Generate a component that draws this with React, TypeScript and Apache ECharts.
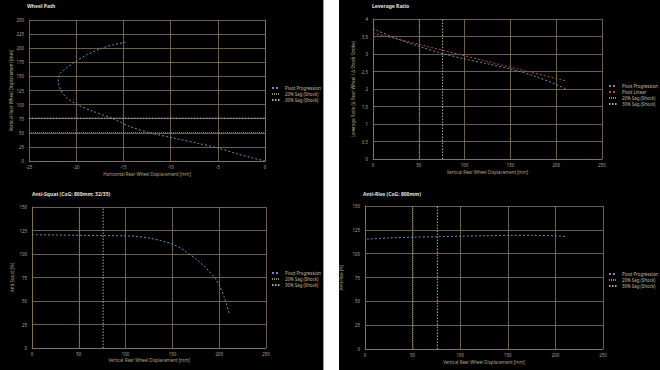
import React, { useEffect, useRef } from "react";
import * as echarts from "echarts";

// Wheel path: [horizontal mm, vertical mm]
const wheelPathH = [0, -1.5, -3, -5, -7, -9.5, -12.2, -14.3, -16.1, -18.2, -19.9, -21.0, -21.6, -21.9, -21.7, -21.0, -20.2, -18.9, -17.3, -16.1, -14.8];
const wheelPathV = [0, 6, 13, 23, 31, 40, 50, 61, 75, 88, 100, 112, 125, 140, 155, 165, 175, 188, 200, 205.8, 210.5];

// Leverage ratio
const levX = [0, 25, 50, 75, 100, 125, 150, 175, 200, 211];
const levProgression = [3.72, 3.45, 3.22, 3.02, 2.86, 2.72, 2.57, 2.38, 2.13, 1.99];
const levLinearX = [0, 212];
const levLinear = [3.6, 2.22];

// Anti-squat
const asX = [0, 25, 50, 75, 100, 110, 125, 140, 150, 160, 167, 175, 185, 195, 200, 205, 211];
const asY = [120.5, 120.2, 119.9, 119.6, 119.3, 118.8, 117, 113.5, 110.5, 105.5, 100.5, 95, 86, 75, 67, 55, 36];

// Anti-rise
const arX = [2, 25, 50, 75, 100, 125, 150, 175, 200, 211];
const arY = [115.2, 116.5, 117.3, 117.8, 118.3, 118.8, 119.2, 119.2, 118.7, 118];

// Sag points (vertical rear wheel displacement, mm)
const sag20 = 50.5;
const sag30 = 76;

const titles = ["Wheel Path", "Leverage Ratio", "Anti-Squat (CoG: 800mm; 32/35)", "Anti-Rise (CoG: 800mm)"];

const GRID = "#85795f";
const LABEL = "#b3a585";
const BLUE = "#6a8dc0";
const RED = "#c04a4a";
const SAG20 = "#8a8a78";
const SAG30 = "#b0aa98";
const FONT = "Noto Sans";
const FS = 4.4;

export default function App() {
  const ref = useRef<HTMLDivElement>(null);
  useEffect(() => {
    if (!ref.current) return;
    const chart = echarts.init(ref.current, null, { renderer: "svg" });
    const zip = (a: number[], b: number[]) => a.map((v, i) => [v, b[i]]);

    const mkX = (gi: number, min: number, max: number, interval: number, name: string, gap: number) => ({
      type: "value", gridIndex: gi, min, max, interval, name, nameLocation: "middle", nameGap: gap,
      nameTextStyle: { color: LABEL, fontSize: FS, fontFamily: FONT },
      axisLine: { show: true, lineStyle: { color: GRID, width: 0.8 } },
      axisTick: { show: false },
      axisLabel: { color: LABEL, fontSize: FS, fontFamily: FONT, margin: 4 },
      splitLine: { show: true, lineStyle: { color: GRID, width: 0.8 } },
    });
    const mkY = (gi: number, min: number, max: number, interval: number, name: string, gap: number) => ({
      type: "value", gridIndex: gi, min, max, interval, name, nameLocation: "middle", nameGap: gap,
      nameTextStyle: { color: LABEL, fontSize: FS, fontFamily: FONT },
      axisLine: { show: true, lineStyle: { color: GRID, width: 0.8 } },
      axisTick: { show: false },
      axisLabel: { color: LABEL, fontSize: FS, fontFamily: FONT, margin: 5 },
      splitLine: { show: true, lineStyle: { color: GRID, width: 0.8 } },
    });

    const line = (name: string, gi: number, data: number[][], color: string, type: any, width = 1, smooth: any = false) => ({
      name, type: "line", xAxisIndex: gi, yAxisIndex: gi, data, symbol: "none", smooth,
      lineStyle: { color, width, type }, itemStyle: { color }, z: 3,
    });

    const legend = (left: number, top: number, data: string[]) => ({
      left, top, orient: "vertical", itemWidth: 8, itemHeight: 5, itemGap: 2, data,
      itemStyle: { opacity: 0 },
      textStyle: { color: "#c8bb9c", fontSize: FS, fontFamily: FONT },
      padding: 0,
    });

    const sagNames = ["20% Sag (Shock)", "30% Sag (Shock)"];

    chart.setOption({
      animation: false,
      backgroundColor: "#000",
      textStyle: { fontFamily: FONT },
      title: [
        { text: titles[0], left: 27, top: 3.5 },
        { text: titles[1], left: 372, top: 3.5 },
        { text: titles[2], left: 32, top: 191.5 },
        { text: titles[3], left: 363, top: 191.5 },
      ].map((t) => ({ ...t, padding: 0, textStyle: { color: "#e4e0d8", fontSize: 5, fontWeight: "bold", fontFamily: FONT } })),
      grid: [
        { left: 29, top: 20, width: 236, height: 141 },
        { left: 373, top: 19, width: 229, height: 140 },
        { left: 32, top: 207, width: 234, height: 141 },
        { left: 365, top: 206, width: 238, height: 143 },
      ],
      xAxis: [
        mkX(0, -25, 0, 5, "Horizontal Rear Wheel Displacement [mm]", 11),
        mkX(1, 0, 250, 50, "Vertical Rear Wheel Displacement [mm]", 11),
        mkX(2, 0, 250, 50, "Vertical Rear Wheel Displacement [mm]", 10),
        mkX(3, 0, 250, 50, "Vertical Rear Wheel Displacement [mm]", 11),
      ],
      yAxis: [
        mkY(0, 0, 250, 25, "Vertical Rear Wheel Displacement [mm]", 15),
        mkY(1, 0, 4, 0.5, "Leverage Ratio (Δ Rear Wheel / Δ Shock Stroke)", 18.5),
        mkY(2, 0, 150, 25, "Anti-Squat [%]", 18),
        mkY(3, 0, 150, 25, "Anti-Rise [%]", 22.5),
      ],
      legend: [
        legend(271, 86, ["Pivot Progression", ...sagNames]),
        legend(608, 84, ["Pivot Progression", "Pivot Linear", ...sagNames]),
        legend(271, 271, ["Pivot Progression", ...sagNames]),
        legend(608, 272, ["Pivot Progression", ...sagNames]),
      ],
      graphic: [
        { type: "rect", shape: { x: 323, y: 0, width: 16, height: 370 }, style: { fill: "#fff" }, z: 100 },
        { type: "line", shape: { x1: 323.5, y1: 0, x2: 323.5, y2: 370 }, style: { stroke: "#999", lineWidth: 1 }, z: 101 },
      ],
      series: [
        // Wheel path
        line("Pivot Progression", 0, zip(wheelPathH, wheelPathV), BLUE, [2, 2], 1, 0.3),
        line(sagNames[0], 0, [[-25, sag20], [0, sag20]], SAG20, [1, 1], 0.8),
        line(sagNames[1], 0, [[-25, sag30], [0, sag30]], SAG30, [1.5, 1.5], 1),
        // Leverage
        line("Pivot Progression", 1, zip(levX, levProgression), BLUE, [2, 2], 1, 0.3),
        line("Pivot Linear", 1, zip(levLinearX, levLinear), RED, [2, 2], 1),
        line(sagNames[0], 1, [[sag20, 0], [sag20, 4]], SAG20, [1, 1], 0.8),
        line(sagNames[1], 1, [[sag30, 0], [sag30, 4]], SAG30, [1.5, 1.5], 1),
        // Anti-squat
        line("Pivot Progression", 2, zip(asX, asY), BLUE, [2, 2], 1, 0.3),
        line(sagNames[0], 2, [[sag20, 0], [sag20, 150]], SAG20, [1, 1], 0.8),
        line(sagNames[1], 2, [[sag30, 0], [sag30, 150]], SAG30, [1.5, 1.5], 1),
        // Anti-rise
        line("Pivot Progression", 3, zip(arX, arY), BLUE, [2, 2], 1, 0.3),
        line(sagNames[0], 3, [[sag20, 0], [sag20, 150]], SAG20, [1, 1], 0.8),
        line(sagNames[1], 3, [[sag30, 0], [sag30, 150]], SAG30, [1.5, 1.5], 1),
      ],
    });
    return () => chart.dispose();
  }, []);

  return (
    <div style={{ position: "fixed", left: 0, top: 0, width: 660, height: 370, background: "#fff" }}>
      <div ref={ref} style={{ width: 660, height: 370 }} />
    </div>
  );
}
